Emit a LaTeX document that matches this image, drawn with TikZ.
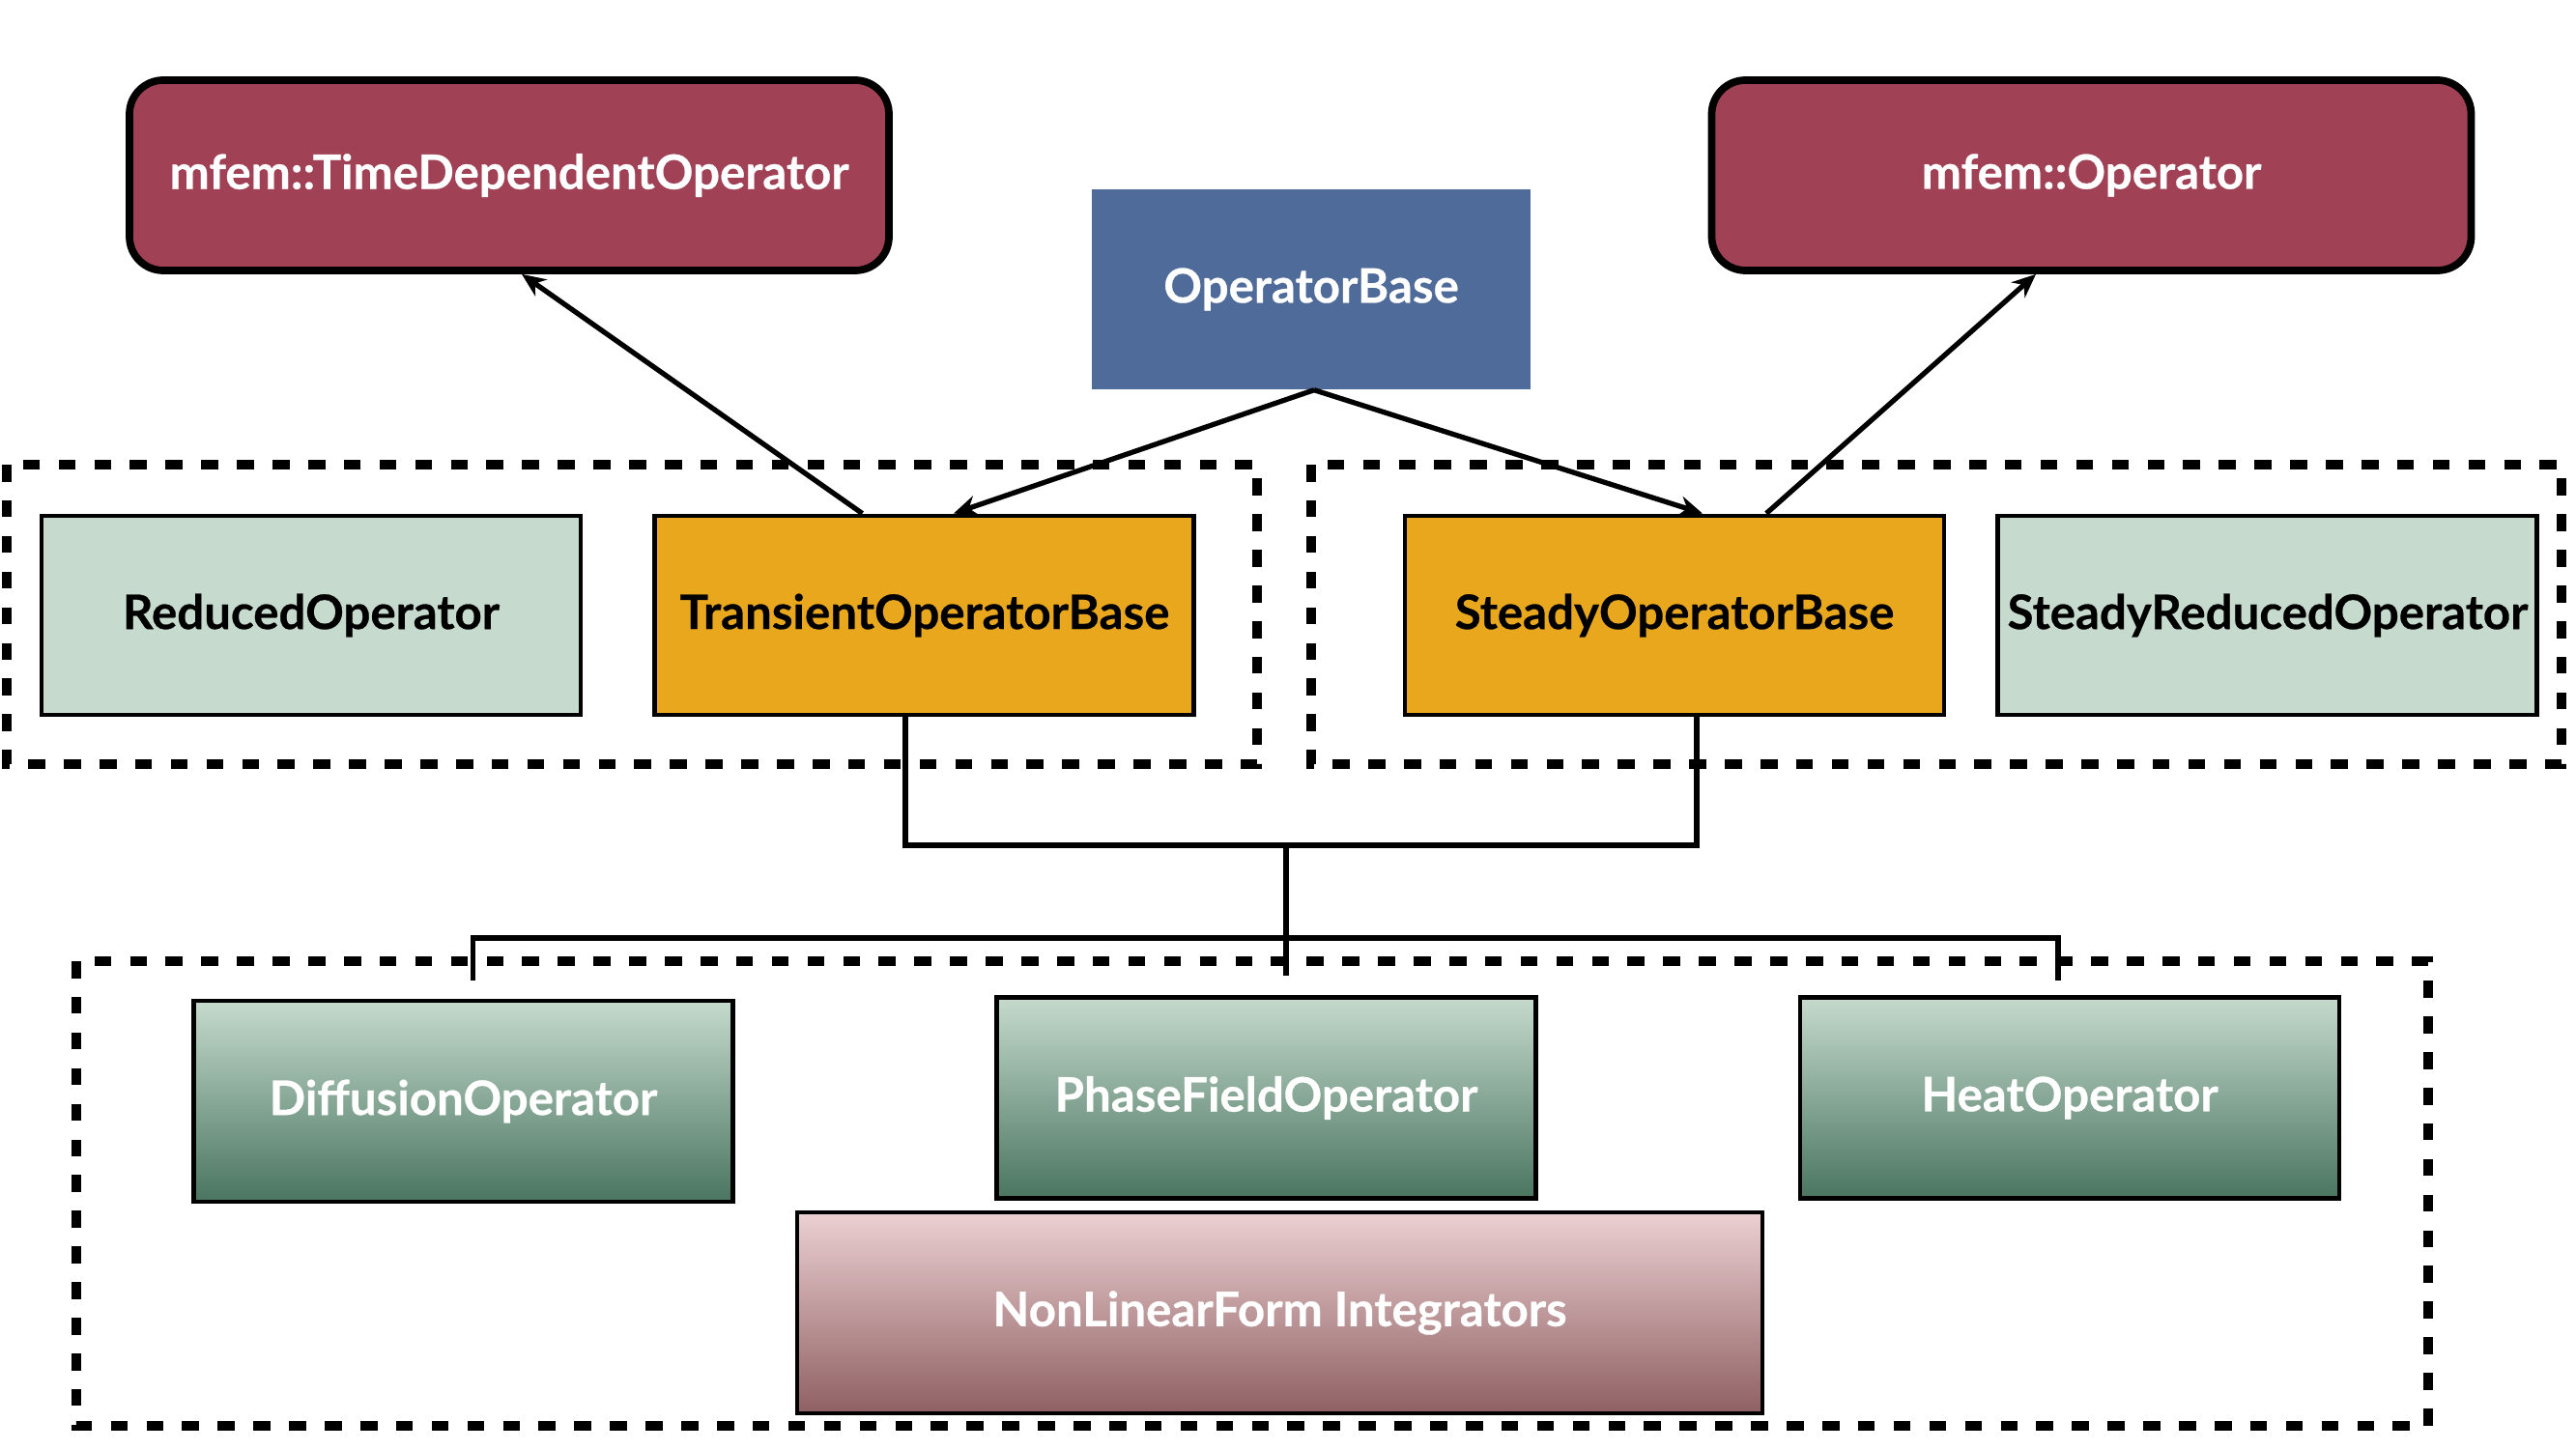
\documentclass[tikz,border=0pt]{standalone}
\usepackage{fontspec}
\setsansfont{Lato}[BoldFeatures={FakeBold=0.5}]
\usetikzlibrary{positioning, arrows.meta}

\definecolor{mfemred}{RGB}{161,65,86}
\definecolor{baseblue}{RGB}{79,107,153}
\definecolor{baseorange}{RGB}{233,167,30}
\definecolor{palegreen}{RGB}{198,218,205}
\definecolor{greentop}{RGB}{197,218,205}
\definecolor{greenbot}{RGB}{74,117,96}
\definecolor{pinktop}{RGB}{236,208,210}
\definecolor{pinkbot}{RGB}{143,96,99}

\tikzset{
    box/.style={minimum width=5.58cm, minimum height=2.06cm, inner sep=2pt, align=center,
        font=\sffamily\bfseries\fontsize{14}{16}\selectfont},
    mfembox/.style={box, draw, line width=2.2pt, rounded corners=0.35cm, fill=mfemred,
        text=white, minimum width=7.86cm, minimum height=1.97cm},
    basebox/.style={box, fill=baseblue, text=white, minimum width=4.54cm, minimum height=2.07cm},
    mainbox/.style={box, draw, line width=1.4pt, fill=baseorange},
    reducedbox/.style={box, draw, line width=1.4pt, fill=palegreen},
    physbox/.style={box, draw, line width=1.4pt, top color=greentop, bottom color=greenbot,
        text=white, minimum height=2.08cm},
    integbox/.style={box, draw, line width=1.4pt, top color=pinktop, bottom color=pinkbot,
        text=white, minimum width=9.99cm, minimum height=2.08cm},
    groupbox/.style={draw, line width=2.6pt, dash pattern=on 5pt off 5.5pt},
    link/.style={line width=1.5pt},
    inherit/.style={link, -{Stealth[length=7pt, width=6pt]}}
}

\begin{document}
\begin{tikzpicture}

    \useasboundingbox (0,0) rectangle (26.66,15);

    % Groups
    \draw[groupbox] (0.07,10.19) rectangle (13.01,7.09);
    \draw[groupbox] (13.57,10.19) rectangle (26.51,7.09);
    \draw[groupbox] (0.79,5.05) rectangle (25.13,0.24);

    % mfem classes
    \node[mfembox] (tdo) at (5.27,13.185) {mfem::TimeDependentOperator};
    \node[mfembox] (mop) at (21.645,13.185) {mfem::Operator};

    \node[basebox] (obase) at (13.57,12.005) {OperatorBase};

    % Operator bases
    \node[reducedbox] (red) at (3.22,8.63) {ReducedOperator};
    \node[mainbox, right=0.72cm of red] (trans) {TransientOperatorBase};
    \node[mainbox] (steady) at (17.33,8.63) {SteadyOperatorBase};
    \node[reducedbox, right=0.51cm of steady] (sred) {SteadyReducedOperator};

    % Physics operators
    \node[physbox] (diff) at (4.795,3.60) {DiffusionOperator};
    \node[physbox] (phase) at (13.105,3.635) {PhaseFieldOperator};
    \node[physbox] (heat) at (21.42,3.635) {HeatOperator};
    \node[integbox] (nlf) at (13.245,1.41) {NonLinearForm Integrators};

    % Arrows
    \draw[inherit] ([xshift=-0.645cm]trans.north) -- ([xshift=0.13cm]tdo.south);
    \draw[inherit] ([xshift=0.03cm]obase.south) -- ([xshift=0.3cm]trans.north);
    \draw[inherit] ([xshift=0.03cm]obase.south) -- ([xshift=0.29cm]steady.north);
    \draw[inherit] ([xshift=0.95cm]steady.north) -- ([xshift=-0.575cm]mop.south);

    % Tree
    \coordinate (joint) at (13.31,6.25);
    \coordinate (hub) at (13.31,5.29);
    \coordinate (stub) at (13.31,4.90);
    \draw[link] ([xshift=-0.2cm]trans.south) |- (joint) -| ([xshift=0.23cm]steady.south);
    \draw[link] (joint) -- (stub);
    \draw[link] ([xshift=0.1cm, yshift=0.19cm]diff.north) |- (hub)
        -| ([xshift=-0.12cm, yshift=0.15cm]heat.north);

\end{tikzpicture}
\end{document}
